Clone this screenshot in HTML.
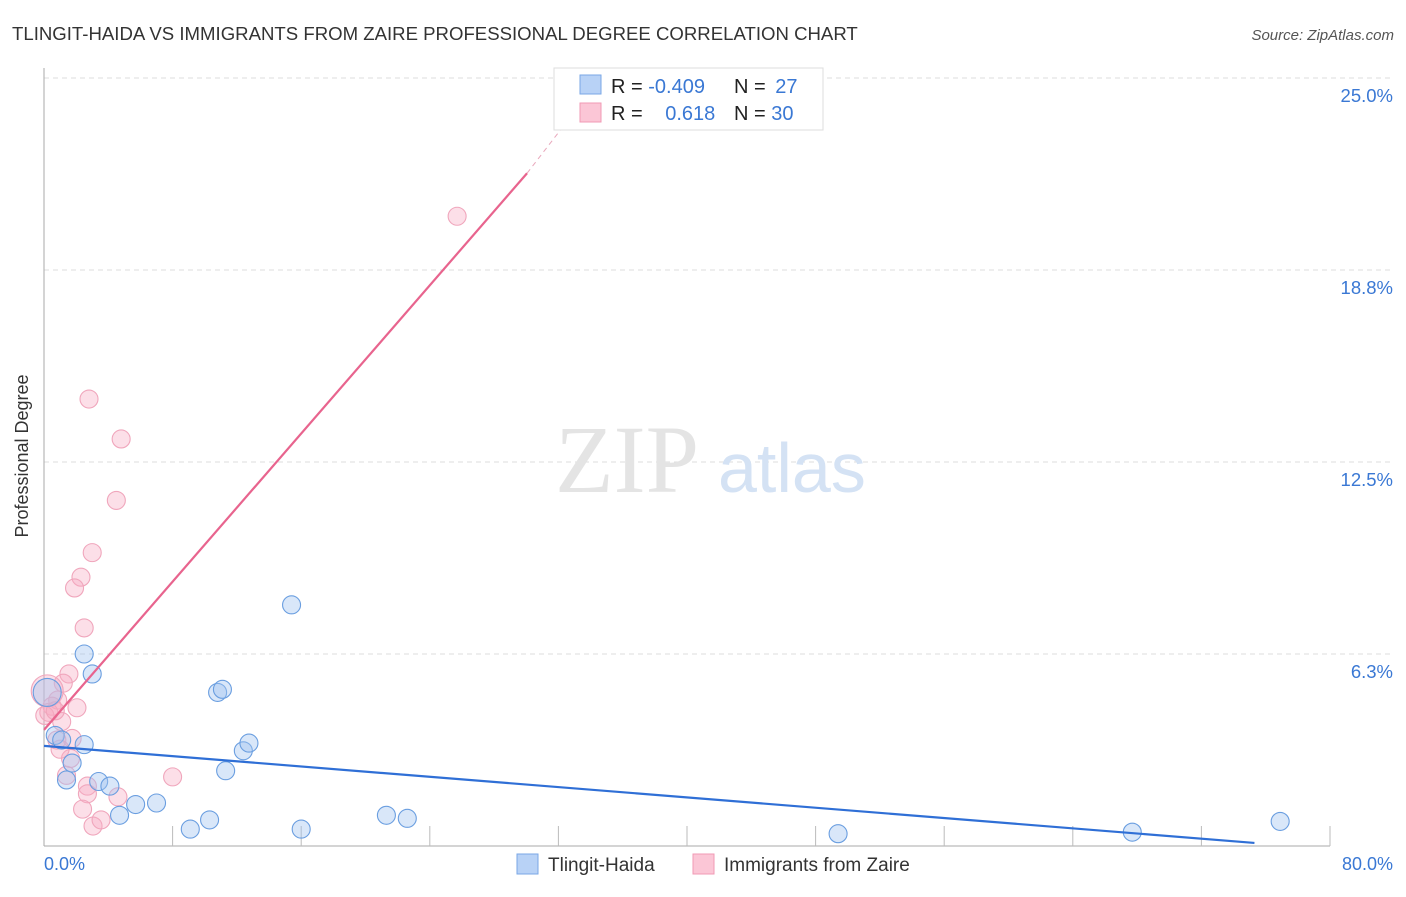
<!DOCTYPE html>
<html><head><meta charset="utf-8"><style>
body{margin:0;background:#fff;font-family:"Liberation Sans",sans-serif}
</style></head><body>
<svg width="1406" height="892" xmlns="http://www.w3.org/2000/svg" font-family="Liberation Sans, sans-serif">
<text x="12" y="40" font-size="18.6" fill="#333">TLINGIT-HAIDA VS IMMIGRANTS FROM ZAIRE PROFESSIONAL DEGREE CORRELATION CHART</text>
<text x="1394" y="40" font-size="15" fill="#555" font-style="italic" text-anchor="end">Source: ZipAtlas.com</text>
<g id="grid"></g>
<text x="555" y="492" font-size="96" fill="#e4e4e4" font-family="Liberation Serif, serif">ZIP</text>
<text x="718" y="492" font-size="70" fill="#d4e2f4">atlas</text>
<line x1="44" y1="68" x2="44" y2="846" stroke="#aaa"/>
<line x1="44" y1="846" x2="1330" y2="846" stroke="#aaa"/>
<g id="ticks"></g>
<text x="28" y="456" font-size="18" fill="#333" text-anchor="middle" transform="rotate(-90 28 456)">Professional Degree</text>
<text x="44" y="870" font-size="18" fill="#3a78d4">0.0%</text>
<text x="1393" y="870" font-size="18" fill="#3a78d4" text-anchor="end">80.0%</text>
<g id="pts"></g>
<g id="trends"></g>
<g>
<rect x="554" y="68" width="269" height="62" fill="#fff" stroke="#ddd"/>
<rect x="580" y="75" width="21" height="19" fill="#b8d2f6" stroke="#7aa7e6"/>
<rect x="580" y="103" width="21" height="19" fill="#fbc6d6" stroke="#f09ab4"/>
<text x="611" y="93" font-size="20" fill="#222">R = <tspan fill="#3a78d4">-0.409</tspan></text>
<text x="734" y="93" font-size="20" fill="#222">N = <tspan fill="#3a78d4" dx="4">27</tspan></text>
<text x="611" y="120" font-size="20" fill="#222">R = <tspan fill="#3a78d4" dx="17">0.618</tspan></text>
<text x="734" y="120" font-size="20" fill="#222">N = <tspan fill="#3a78d4">30</tspan></text>
</g>
<g>
<rect x="517" y="854" width="21" height="20" fill="#b8d2f6" stroke="#7aa7e6"/>
<text x="548" y="871" font-size="19" fill="#333">Tlingit-Haida</text>
<rect x="693" y="854" width="21" height="20" fill="#fbc6d6" stroke="#f09ab4"/>
<text x="724" y="871" font-size="19" fill="#333">Immigrants from Zaire</text>
</g>
</svg>
<script>
const yTicks=[6.25,12.5,18.75,25];
const yTickLabels=["6.3%","12.5%","18.8%","25.0%"];
const xTicks=[8,16,24,32,40,48,56,64,72,80];
const blueX=[0.2,0.7,1.1,2.5,2.5,3.0,1.4,1.75,3.4,4.1,4.7,5.7,7.0,9.1,10.3,10.8,11.1,11.3,12.4,12.75,15.4,16.0,21.3,22.6,49.4,67.7,76.9];
const blueY=[5.0,3.6,3.45,3.3,6.25,5.6,2.15,2.7,2.1,1.95,1.0,1.35,1.4,0.55,0.85,5.0,5.1,2.45,3.1,3.35,7.85,0.55,1.0,0.9,0.4,0.45,0.8];
const blueR=[14,9,9,9,9,9,9,9,9,9,9,9,9,9,9,9,9,9,9,9,9,9,9,9,9,9,9];
const pinkX=[2.8,4.8,4.5,3.0,2.3,1.9,2.5,1.55,1.2,0.85,0.2,0.5,0.3,1.1,2.05,0.8,1.75,1.4,1.65,2.7,2.7,2.4,4.6,8.0,3.05,3.55,25.7,0.05,0.7,1.0];
const pinkY=[14.55,13.25,11.25,9.55,8.75,8.4,7.1,5.6,5.3,4.75,5.05,4.55,4.35,4.05,4.5,3.45,3.5,2.3,2.85,1.95,1.7,1.2,1.6,2.25,0.65,0.85,20.5,4.25,4.4,3.15];
const pinkR=[9,9,9,9,9,9,9,9,9,9,16,9,9,9,9,9,9,9,9,9,9,9,9,9,9,9,9,9,9,9];
const blueTrend=[[0,3.26],[75.3,0.1]];
const pinkTrend=[[0,3.78],[30.05,21.9]];
const pinkDash=[[30.05,21.9],[33.0,23.9]];
const X=v=>44+v*16.075, Y=v=>846-v*30.72;
const NS="http://www.w3.org/2000/svg";
function mk(t,a,p){const e=document.createElementNS(NS,t);for(const k in a)e.setAttribute(k,a[k]);p.appendChild(e);return e;}
const grid=document.getElementById('grid');
yTicks.forEach((t,i)=>{
 const l=mk('line',{x1:44,x2:1394,y1:Y(t),y2:Y(t),stroke:'#ddd','stroke-dasharray':'5,4'},grid);
 
 
 const tx=mk('text',{x:1393,y:Y(t)+24,'font-size':18.5,fill:'#3a78d4','text-anchor':'end'},grid);
 tx.textContent=yTickLabels[i];
 
 
});
const tk=document.getElementById('ticks');
xTicks.forEach(t=>{const l=mk('line',{x1:X(t),x2:X(t),y1:826,y2:846,stroke:'#bbb'},tk);
 
 });
const pts=document.getElementById('pts');
function dots(xs,ys,rs,f,s,n){xs.forEach((x,i)=>{const c=mk('circle',{cx:X(x),cy:Y(ys[i]),r:rs[i],fill:f,stroke:s,'stroke-width':1.1},pts);
 
 });}
dots(pinkX,pinkY,pinkR,'rgba(248,170,195,0.38)','#f0a6bc','zaire-point');
dots(blueX,blueY,blueR,'rgba(160,195,240,0.4)','#6a9ee0','tlingit-point');
const tr=document.getElementById('trends');
function ln(p,c,w,d,n){const l=mk('line',{x1:X(p[0][0]),y1:Y(p[0][1]),x2:X(p[1][0]),y2:Y(p[1][1]),stroke:c,'stroke-width':w},tr);if(d)l.setAttribute('stroke-dasharray',d);
 
 }
ln(blueTrend,'#2f6fd6',2.2,null,'tlingit-trend-line');
ln(pinkTrend,'#e8648e',2.2,null,'zaire-trend-line');
ln(pinkDash,'#e9a8bc',1,'5,4','zaire-trend-extension');
</script>
</body></html>
